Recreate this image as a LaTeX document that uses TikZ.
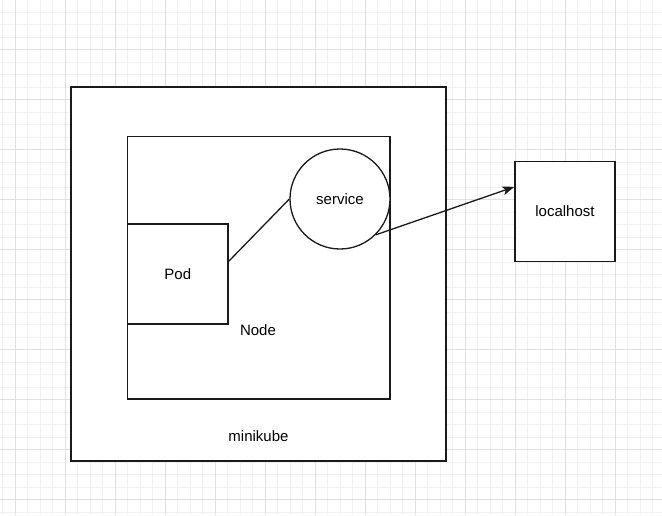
\documentclass[tikz,border=0pt]{standalone}
\usepackage{fontspec}
\setmainfont{Liberation Sans}
\usetikzlibrary{arrows.meta,calc}
\definecolor{minorgrid}{HTML}{F1F1F1}
\definecolor{majorgrid}{HTML}{E0E0E0}
\definecolor{edge}{HTML}{1A1A1A}
\begin{document}
\begin{tikzpicture}[x=1pt,y=-1pt,
  box/.style={draw=edge, line width=1.4pt, fill=white, rectangle, inner sep=0pt, font=\fontsize{15pt}{18pt}\selectfont},
  roundbox/.style={draw=edge, line width=1.3pt, fill=white, circle, inner sep=0pt, font=\fontsize{15pt}{18pt}\selectfont},
  caption/.style={inner sep=0pt, font=\fontsize{15pt}{18pt}\selectfont},
  link/.style={draw=edge, line width=1.3pt}]
\useasboundingbox (0,0) rectangle (662,515);
\fill[white] (0,0) rectangle (662,515);
% grid
\foreach \x in {2.5,15,...,662} \draw[minorgrid, line width=0.9pt] (\x,0) -- (\x,515);
\foreach \y in {12,24.5,...,515} \draw[minorgrid, line width=0.9pt] (0,\y) -- (662,\y);
\foreach \x in {15,65,...,662} \draw[majorgrid, line width=0.9pt] (\x,0) -- (\x,515);
\foreach \y in {49.5,99.5,...,515} \draw[majorgrid, line width=0.9pt] (0,\y) -- (662,\y);
% shapes
\node[box, minimum width=375pt, minimum height=374pt] (mk) at (258.5,274) {};
\node[box, minimum width=262.5pt, minimum height=262.5pt] (nd) at (258.75,267.75) {};
\node[box, minimum width=100.5pt, minimum height=100pt] (pod) at (177.75,274) {Pod};
\node[roundbox, minimum size=100pt] (svc) at (340,199) {service};
\node[box, minimum width=100pt, minimum height=100pt] (lh) at (565,211.5) {localhost};
\node[caption] (ndl) at (258,330) {Node};
\node[caption] (mkl) at (258.5,436) {minikube};
% connectors
\draw[link] ($(pod.north east)!0.375!(pod.south east)$) -- (svc.west);
\draw[link, -{Stealth[length=12pt,width=9pt,inset=3pt]}] (svc.south east) -- ($(lh.north west)!0.257!(lh.south west)$);
\end{tikzpicture}
\end{document}
